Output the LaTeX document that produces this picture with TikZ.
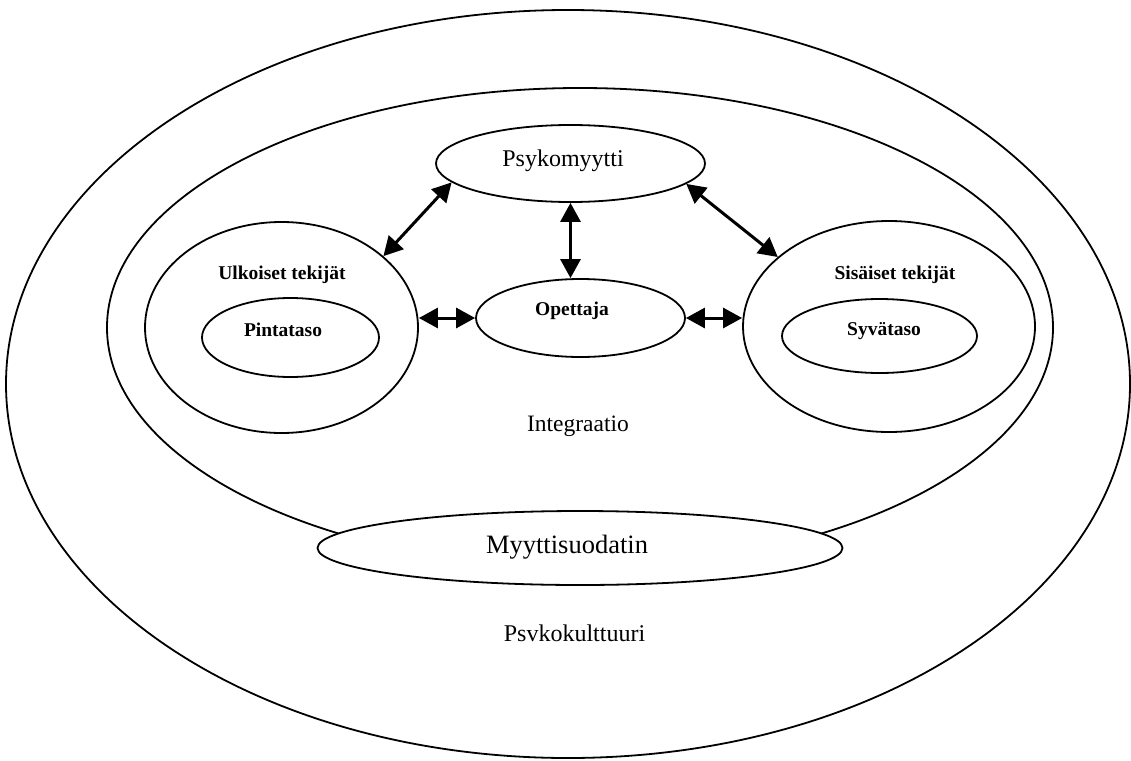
\documentclass[tikz,border=0pt]{standalone}
\usepackage{fontspec}
\setmainfont{Liberation Serif}
\usetikzlibrary{shapes.geometric,arrows.meta}

\begin{document}
\begin{tikzpicture}[x=1pt,y=-1pt,
  ell/.style={draw, ellipse, line width=1.8pt, inner sep=0pt, fill=white},
  biarrow/.style={line width=3pt, {Triangle[length=19pt,width=20pt]}-{Triangle[length=19pt,width=20pt]}},
  bigtext/.style={font=\fontsize{24}{28}\selectfont, anchor=base, inner sep=0pt},
  hugetext/.style={font=\fontsize{26.5}{30}\selectfont, anchor=base, inner sep=0pt},
  smalltext/.style={font=\bfseries\fontsize{19.5}{23}\selectfont, anchor=base, inner sep=0pt}]

\useasboundingbox (0,0) rectangle (1131,760);

% ellipses
\node[ell, minimum width=1124pt, minimum height=748pt] (outer) at (568,384) {};
\node[ell, minimum width=946pt, minimum height=479pt] (inner) at (580,327.5) {};
\node[ell, minimum width=269pt, minimum height=77pt] (psy) at (570.5,163.5) {};
\node[ell, minimum width=209pt, minimum height=78pt] (opet) at (580.5,318) {};
\node[ell, minimum width=273pt, minimum height=211pt] (ulk) at (281.5,327.5) {};
\node[ell, minimum width=177pt, minimum height=79pt] (pinta) at (290.5,337.5) {};
\node[ell, minimum width=292pt, minimum height=211pt] (sis) at (889,326.5) {};
\node[ell, minimum width=195pt, minimum height=74pt] (syva) at (879.5,336) {};
\node[ell, minimum width=525pt, minimum height=74pt] (myyt) at (580,548) {};

% texts
\node[bigtext] (tpsy) at (563,166.7) {Psykomyytti};
\node[smalltext] (topet) at (572,315) {Opettaja};
\node[smalltext] (tulk) at (282,279) {Ulkoiset tekijät};
\node[smalltext] (tpinta) at (283,336.5) {Pintataso};
\node[smalltext] (tsis) at (895,279) {Sisäiset tekijät};
\node[smalltext] (tsyva) at (884,335) {Syvätaso};
\node[font=\fontsize{23.5}{28}\selectfont, anchor=base, inner sep=0pt] (tint) at (578,431.7) {Integraatio};
\node[hugetext] (tmyyt) at (567,553.3) {Myyttisuodatin};
\node[bigtext] (tpsk) at (574.5,641) {Psvkokulttuuri};

% arrows
\draw[biarrow] (psy.189) -- (ulk.35);
\draw[biarrow] (psy.350.5) -- (sis.148);
\draw[biarrow] (psy.south) -- (psy.south |- opet.north);
\draw[biarrow] (ulk.east |- opet.west) -- (opet.west);
\draw[biarrow] (opet.east) -- (sis.west |- opet.east);
\end{tikzpicture}
\end{document}
